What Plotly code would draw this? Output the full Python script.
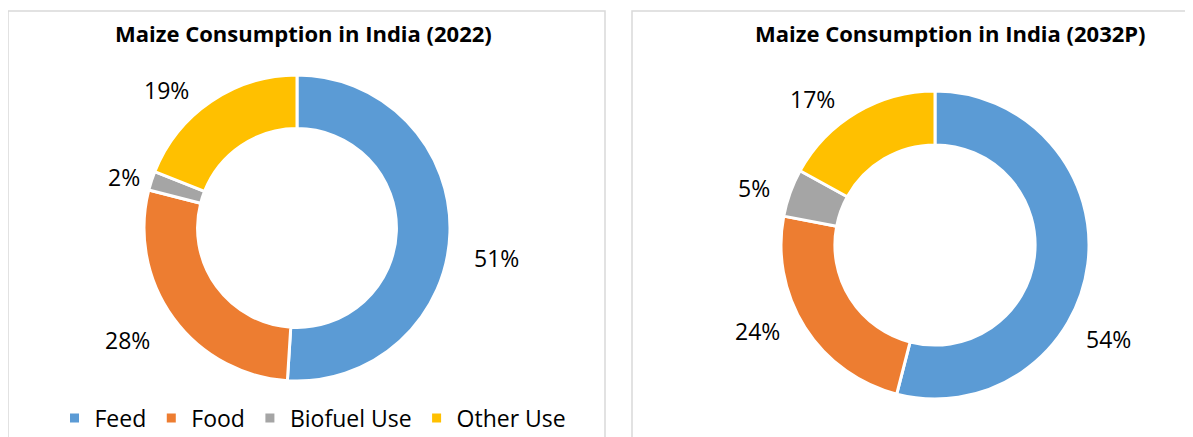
import math
import plotly.graph_objects as go

W, H = 1193, 437
OFF = 8  # page body margin in the browser

categories = ["Feed", "Food", "Biofuel Use", "Other Use"]
values_2022 = [51, 28, 2, 19]
values_2032 = [54, 24, 5, 17]
titles = ["Maize Consumption in India (2022)", "Maize Consumption in India (2032P)"]
colors = ["#5B9BD5", "#ED7D31", "#A5A5A5", "#FFC000"]

FONT = "Open Sans"

# label placement style: angular nudge (deg) and radial factor, per slice
label_style = [
    dict(nudge=[6.7, 2.5, -1.6, -9.1], rad=[1.32, 1.33, 1.18, 1.24]),
    dict(nudge=[21.3, 6.4, -2.2, -9.4], rad=[1.28, 1.28, 1.23, 1.24]),
]


def px(x):
    return (x - OFF) / W


def py(y):
    return 1 - (y - OFF) / H


pies = [
    dict(values=values_2022, cx=297, cy=228, r=153, title=titles[0], tx=303),
    dict(values=values_2032, cx=935, cy=245, r=154, title=titles[1], tx=950),
]

fig = go.Figure()
annotations = []
for i, p in enumerate(pies):
    cx, cy, r = p["cx"], p["cy"], p["r"]
    fig.add_trace(go.Pie(
        labels=categories,
        values=p["values"],
        sort=False,
        direction="clockwise",
        rotation=0,
        hole=0.65,
        marker=dict(colors=colors, line=dict(color="white", width=3)),
        textinfo="none",
        hoverinfo="label+percent",
        showlegend=(i == 0),
        domain=dict(x=[px(cx - r), px(cx + r)], y=[py(cy + r), py(cy - r)]),
    ))
    total = sum(p["values"])
    cum = 0
    st = label_style[i]
    for j, v in enumerate(p["values"]):
        mid = (cum + v / 2) / total * 2 * math.pi + math.radians(st["nudge"][j])
        cum += v
        lx = cx + st["rad"][j] * r * math.sin(mid)
        ly = cy - st["rad"][j] * r * math.cos(mid)
        annotations.append(dict(
            x=px(lx), y=py(ly), xref="paper", yref="paper",
            text=f"{round(v / total * 100)}%", showarrow=False,
            font=dict(family=FONT, size=23, color="#000000"),
            xanchor="center", yanchor="middle",
        ))
    annotations.append(dict(
        x=px(p["tx"]), y=py(33), xref="paper", yref="paper",
        text=f"<b>{p['title']}</b>", showarrow=False,
        font=dict(family=FONT, size=22, color="#000000"),
        xanchor="center", yanchor="middle",
    ))

shapes = [
    dict(type="rect", xref="paper", yref="paper", x0=px(8), x1=px(605), y0=-0.1, y1=py(11),
         line=dict(color="#D9D9D9", width=1.5), fillcolor="rgba(0,0,0,0)"),
    dict(type="rect", xref="paper", yref="paper", x0=px(632), x1=1.1, y0=-0.1, y1=py(11),
         line=dict(color="#D9D9D9", width=1.5), fillcolor="rgba(0,0,0,0)"),
]

fig.update_layout(
    width=W, height=H,
    margin=dict(l=0, r=0, t=0, b=0),
    paper_bgcolor="white", plot_bgcolor="white",
    font=dict(family=FONT, size=23, color="#000000"),
    annotations=annotations,
    shapes=shapes,
    legend=dict(
        orientation="h", x=px(313), xanchor="center", y=py(418), yanchor="middle",
        font=dict(family=FONT, size=23, color="#000000"),
        itemwidth=30, itemclick=False, bgcolor="rgba(0,0,0,0)",
        traceorder="normal",
    ),
)

fig.write_html("out.html")
